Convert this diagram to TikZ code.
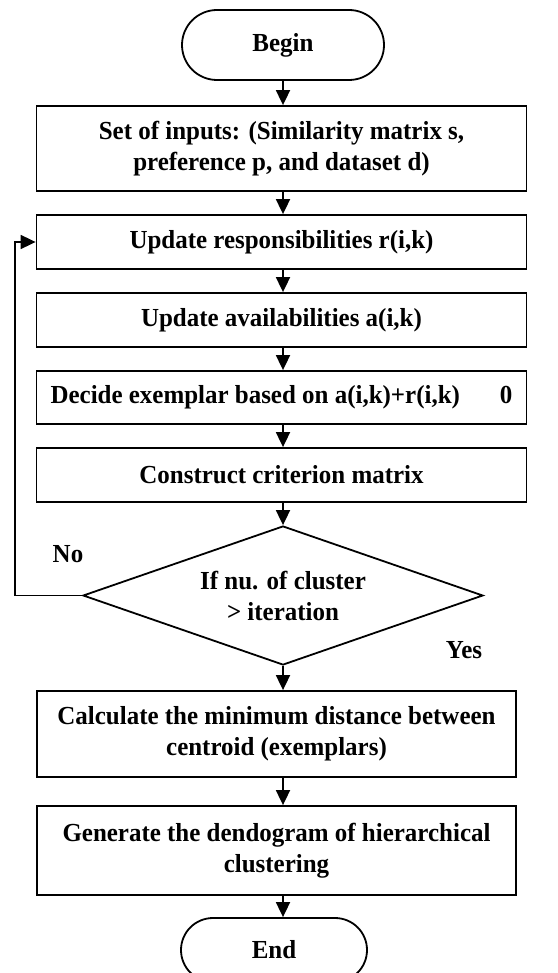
\documentclass[tikz,border=0pt]{standalone}
\usepackage{fontspec}
\setmainfont{Liberation Serif}[FakeStretch=0.96]
\usetikzlibrary{shapes.geometric,arrows.meta}
\begin{document}
\begin{tikzpicture}[x=1pt,y=-1pt,
  line width=1.8pt,
  txt/.style={font={\fontsize{26}{31}\selectfont\bfseries}},
  procbox/.style={draw,txt,rectangle,inner sep=0pt,align=center},
  termbox/.style={draw,txt,rectangle,rounded corners=32pt,inner sep=0pt,align=center},
  decbox/.style={draw,txt,diamond,aspect=2.9,inner sep=0pt,align=center,minimum width=400pt,minimum height=139pt},
  arr/.style={-{Triangle[length=15pt,width=14pt]},line width=1.8pt}
]
\useasboundingbox (0,0) rectangle (557,973);
\node[termbox,minimum width=202pt,minimum height=70pt,rounded corners=35pt] (begin) at (283,45) {Begin};
\node[procbox,minimum width=490pt,minimum height=85pt] (b1) at (281.5,148.5) {Set of inputs: (Similarity matrix s,\\preference p, and dataset d)};
\node[procbox,minimum width=490pt,minimum height=54pt] (b2) at (281.5,242) {Update responsibilities r(i,k)};
\node[procbox,minimum width=490pt,minimum height=54pt] (b3) at (281.5,320) {Update availabilities a(i,k)};
\node[procbox,minimum width=490pt,minimum height=53pt] (b4) at (281.5,397.5) {Decide exemplar based on a(i,k)+r(i,k)\hspace*{40pt}0};
\node[procbox,minimum width=490pt,minimum height=54pt] (b5) at (281.5,475) {Construct criterion matrix};
\node[decbox] (dia) at (283,595.5) {If nu. of cluster\\> iteration};
\node[procbox,minimum width=479pt,minimum height=86pt] (b6) at (276.5,734) {Calculate the minimum distance between\\centroid (exemplars)};
\node[procbox,minimum width=479pt,minimum height=89pt] (b7) at (276.5,850.5) {Generate the dendogram of hierarchical\\clustering};
\node[termbox,minimum width=186pt,minimum height=64pt] (end) at (274,950) {End};
\node[txt] (no) at (68,554) {No};
\node[txt] (yes) at (464,650) {Yes};
\coordinate (fb) at (15,0);
\draw[arr] (begin.south) -- (begin.south |- b1.north);
\draw[arr] (b1.south -| begin) -- (b2.north -| begin);
\draw[arr] (b2.south -| begin) -- (b3.north -| begin);
\draw[arr] (b3.south -| begin) -- (b4.north -| begin);
\draw[arr] (b4.south -| begin) -- (b5.north -| begin);
\draw[arr] (b5.south -| begin) -- (dia.north);
\draw[arr] (dia.south) -- (b6.north -| dia);
\draw[arr] (b6.south -| dia) -- (b7.north -| dia);
\draw[arr] (b7.south -| dia) -- (end.north -| dia);
\draw[arr] (dia.west) -- (dia.west -| fb) -- (b2.west -| fb) -- (b2.west);
\end{tikzpicture}
\end{document}
